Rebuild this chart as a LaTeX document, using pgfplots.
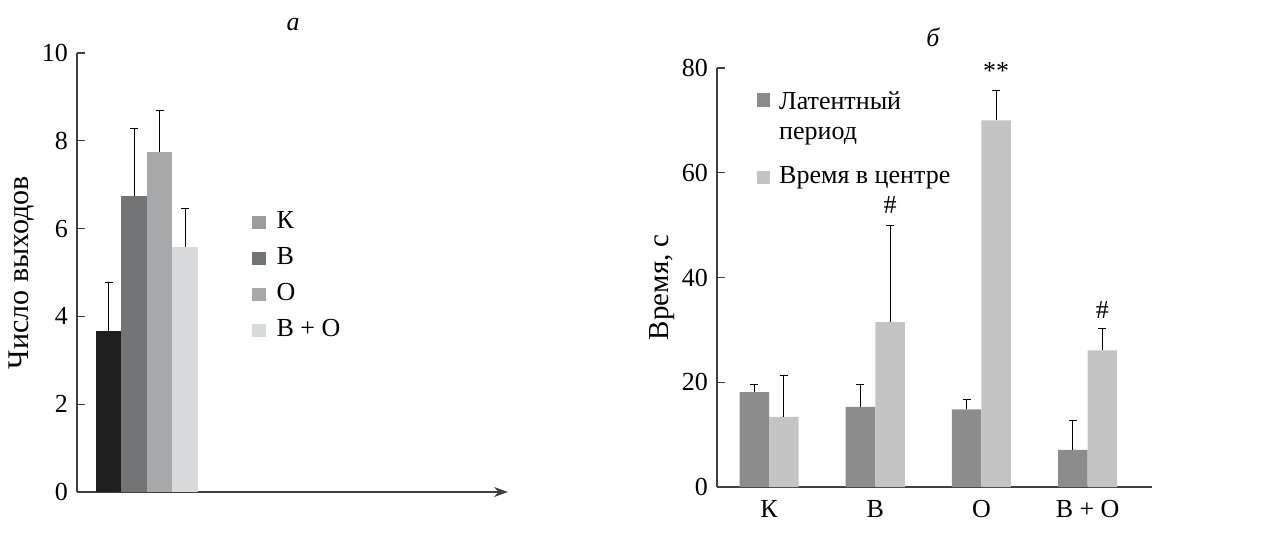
\documentclass[border=0pt]{standalone}
\usepackage{fontspec}
\setmainfont{Liberation Serif}
\usepackage{pgfplots}
\pgfplotsset{compat=1.18}
\usetikzlibrary{arrows.meta}
\definecolor{aK}{HTML}{1E1E1E}
\definecolor{aB}{HTML}{727476}
\definecolor{aO}{HTML}{A6A8AA}
\definecolor{aBO}{HTML}{D9DADC}
\definecolor{legK}{HTML}{9C9C9C}
\definecolor{bD}{HTML}{8C8C8C}
\definecolor{bL}{HTML}{C4C4C4}
\pgfplotsset{
  sqlegend/.style={legend image code/.code={\fill[##1, draw=none] (0pt,-3.4pt) rectangle (6.8pt,3.4pt);}},
  sqlegendup/.style={legend image code/.code={\fill[##1, draw=none] (0pt,5.1pt) rectangle (6.8pt,11.9pt);}},
  common/.style={
    scale only axis,
    clip=false,
    axis x line*=bottom, axis y line*=left,
    axis line style={color=black!75, line width=0.6pt},
    tick align=inside,
    major tick length=4pt,
    tick style={color=black!75, line width=0.6pt},
    /pgf/number format/assume math mode=true,
    ticklabel style={font=\fontsize{13pt}{15pt}\selectfont},
    legend style={draw=none, fill=none, inner sep=0pt, font=\fontsize{13pt}{15pt}\selectfont},
    legend cell align=left,
    error bars/y dir=plus, error bars/y explicit,
    error bars/error bar style={black, line width=0.5pt},
  },
}
\begin{document}
\fontsize{13pt}{15pt}\selectfont
\begin{tikzpicture}[x=1pt,y=1pt]
\path[use as bounding box] (0,0) rectangle (637,271.5);
\node[font=\fontsize{13pt}{15pt}\selectfont\itshape] at (146.5,259) {а};
\node[font=\fontsize{13pt}{15pt}\selectfont\itshape] at (466.5,253) {б};

\begin{axis}[common,
  at={(38.5pt,25.5pt)}, anchor=south west,
  width=215.5pt, height=219.5pt,
  xmin=0, xmax=431, ymin=0, ymax=10,
  x axis line style={-{Stealth[length=7pt,width=5pt]}},
  xtick=\empty,
  ytick={0,2,...,10},
  ylabel={Число выходов},
  every axis y label/.style={at={(axis description cs:-0.128,0.5)}, rotate=90, anchor=center,
    font=\fontsize{15pt}{17pt}\selectfont},
  legend style={at={(axis description cs:0.405,0.651)}, anchor=north west,
    nodes={inner sep=2pt, text height=9pt, text depth=3pt}, row sep=2pt,
    /tikz/every odd column/.append style={column sep=3.5pt}},
]
\addplot[ybar, bar width=25.5, bar shift=0pt, fill=aK, draw=none, forget plot]
  coordinates {(31.5,3.67) +- (0,1.11)};
\addplot[ybar, bar width=25.5, bar shift=0pt, fill=aB, draw=none, forget plot]
  coordinates {(57,6.74) +- (0,1.55)};
\addplot[ybar, bar width=25.5, bar shift=0pt, fill=aO, draw=none, forget plot]
  coordinates {(82.5,7.75) +- (0,0.95)};
\addplot[ybar, bar width=25.5, bar shift=0pt, fill=aBO, draw=none, forget plot]
  coordinates {(108,5.58) +- (0,0.87)};
\addlegendimage{sqlegend, fill=legK}
\addlegendentry{К}
\addlegendimage{sqlegend, fill=aB}
\addlegendentry{В}
\addlegendimage{sqlegend, fill=aO}
\addlegendentry{О}
\addlegendimage{sqlegend, fill=aBO}
\addlegendentry{В + О}
\end{axis}

\begin{axis}[common,
  at={(358.5pt,28pt)}, anchor=south west,
  width=217.5pt, height=209.5pt,
  xmin=-0.49, xmax=3.606, ymin=0, ymax=80,
  xtick={0,1,2,3}, xticklabels={К,В,О,В + О},
  x tick style={draw=none},
  xticklabel style={yshift=-2pt},
  ytick={0,20,...,80},
  ylabel={Время, с},
  every axis y label/.style={at={(axis description cs:-0.126,0.477)}, rotate=90, anchor=center,
    font=\fontsize{14.5pt}{17pt}\selectfont},
  legend style={at={(axis description cs:0.09,0.955)}, anchor=north west,
    nodes={inner sep=2pt, align=left}, row sep=8pt,
    /tikz/every odd column/.append style={column sep=2.5pt}},
]
\addplot[ybar, bar width=0.278, bar shift=0pt, fill=bD, draw=none, sqlegendup]
  coordinates {(-0.139,18.1) +- (0,1.5) (0.861,15.3) +- (0,4.2) (1.861,14.8) +- (0,2.0) (2.861,7.1) +- (0,5.7)};
\addlegendentry{Латентный\\период}
\addplot[ybar, bar width=0.278, bar shift=0pt, fill=bL, draw=none, sqlegend]
  coordinates {(0.139,13.4) +- (0,8.0) (1.139,31.5) +- (0,18.5) (2.139,70.0) +- (0,5.8) (3.139,26.1) +- (0,4.1)};
\addlegendentry{Время в центре}
\node[font=\fontsize{13pt}{15pt}\selectfont] at (axis cs:1.139,53.8) {\#};
\node[font=\fontsize{13pt}{15pt}\selectfont] at (axis cs:2.139,79.5) {**};
\node[font=\fontsize{13pt}{15pt}\selectfont] at (axis cs:3.139,33.8) {\#};
\end{axis}
\end{tikzpicture}
\end{document}
